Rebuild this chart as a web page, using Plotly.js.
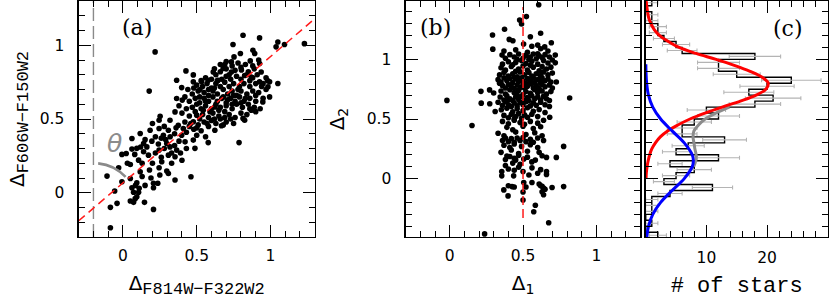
<!DOCTYPE html>
<html><head><meta charset="utf-8">
<script src="https://cdn.plot.ly/plotly-3.0.1.min.js"></script>
<style>html,body{margin:0;padding:0;background:#fff}#chart{width:830px;height:299px}</style>
</head><body><div id="chart"></div>
<script>
// ---------- Panel (a): Delta_{F814W-F322W2} vs Delta_{F606W-F150W2} ----------
const aX = [-0.085,-0.085,-0.04,-0.056,-0.108,-0.029,-0.007,0.05,0.05,-0.007,0.022,0.061,0.094,0.106,0.117,0.094,0.061,0.072,0.106,0.094,0.05,0.072,0.146,0.207,0.207,0.236,0.207,0.18,0.245,0.297,0.308,0.353,0.461,0.263,0.308,0.353,0.364,0.297,0.245,0.173,0.14,0.162,0.196,0.184,0.245,0.274,0.308,0.319,0.398,0.421,0.477,0.488,0.477,0.578,0.623,0.668,0.787,0.825,0.245,0.319,0.375,0.409,0.117,0.061,0.14,
0.083,0.11,0.085,0.13,0.2,0.22,0.26,0.28,0.33,0.35,0.38,0.22,0.26,0.29,0.32,0.35,0.36,0.43,0.45,0.42,0.48,0.51,0.53,0.55,0.58,0.6,0.63,0.66,0.7,0.73,0.56,0.5,0.28,0.2,0.15,0.12,0.08,0.03,0.25,0.19,0.15,0.13,0.24,0.33,0.39,0.43,0.4,
0.218,0.178,0.814,0.926,0.746,1.05,1.095,1.038,1.23,0.881,0.893,0.796,0.753,0.735,0.69,0.863,0.926,0.679,0.427,0.477,0.364,0.612,0.735,0.803,0.825,0.937,0.87,0.926,0.994,1.05,0.983,0.477,0.533,0.578,0.645,0.398,0.522,0.994,0.364,0.402,0.353,0.87,0.948,0.252,0.814,0.5,0.544,0.623,
0.46,0.52,0.57,0.62,0.68,0.75,0.5,
0.45,0.49,0.54,0.58,0.61,0.65,0.69,0.72,0.76,0.8,0.84,0.9,0.4,
0.43,0.47,0.5,0.53,0.56,0.6,0.63,0.66,0.7,0.74,0.77,0.81,0.85,0.89,0.93,
0.38,0.45,0.49,0.52,0.55,0.58,0.61,0.64,0.67,0.7,0.73,0.76,0.79,0.82,0.86,0.9,0.95,
0.42,0.47,0.51,0.55,0.58,0.61,0.64,0.68,0.71,0.74,0.77,0.8,0.84,0.88,0.92,0.97,
0.44,0.5,0.54,0.57,0.6,0.63,0.66,0.69,0.72,0.75,0.79,0.82,0.86,0.9,0.94,
0.56,0.6,0.63,0.67,0.7,0.73,0.77,0.8,0.84,0.88,0.91,0.97,
0.62,0.66,0.7,0.76,0.8,0.85,0.89,0.72,
0.66,0.7,0.78,0.83,0.88,0.92,0.74,
0.59,0.52,0.71,0.78,0.56,0.65,0.83,0.69,0.86,0.62,0.74,0.8,0.58,0.68,0.75,0.9,0.95,0.98,0.64,0.53,0.48,0.86];
const aY = [-0.237,-0.099,-0.072,0.012,0.113,0.169,0.075,0.097,0.192,0.26,0.266,0.296,0.301,0.221,0.142,0.068,0.034,0.003,0.003,-0.027,-0.056,-0.065,-0.065,-0.113,0.034,0.064,0.064,0.154,0.169,0.147,0.131,0.086,0.108,0.21,0.255,0.244,0.289,0.334,0.289,0.255,0.278,0.311,0.35,0.424,0.436,0.39,0.424,0.311,0.39,0.345,0.357,0.301,0.481,0.34,0.424,0.454,0.34,0.492,0.492,0.492,0.458,0.436,0.402,0.368,0.334,
-0.04,0.03,0.05,0.2,0.2,0.27,0.24,0.3,0.27,0.32,0.35,0.38,0.37,0.36,0.38,0.4,0.44,0.41,0.45,0.48,0.43,0.46,0.42,0.48,0.45,0.49,0.47,0.5,0.48,0.5,0.38,0.39,0.45,0.47,0.36,0.31,0.26,0.2,0.12,0.1,0.05,0.11,0.33,0.2,0.27,0.3,0.22,
0.955,0.689,1.068,1.05,1.005,1.022,1.005,0.989,1.011,0.966,0.944,0.944,0.921,0.887,0.869,0.894,0.876,0.842,0.826,0.799,0.763,0.819,0.819,0.833,0.795,0.819,0.785,0.752,0.752,0.741,0.718,0.752,0.752,0.763,0.763,0.713,0.7,0.65,0.639,0.628,0.548,0.56,0.616,0.519,0.504,0.526,0.56,0.582,
0.47,0.5,0.47,0.5,0.46,0.47,0.44,
0.52,0.55,0.53,0.51,0.54,0.52,0.55,0.53,0.51,0.54,0.53,0.55,0.54,
0.57,0.58,0.6,0.57,0.59,0.57,0.6,0.58,0.59,0.57,0.6,0.58,0.6,0.58,0.57,
0.59,0.62,0.64,0.61,0.64,0.62,0.65,0.62,0.64,0.61,0.64,0.62,0.65,0.62,0.64,0.62,0.64,
0.65,0.67,0.69,0.68,0.66,0.69,0.67,0.7,0.67,0.69,0.66,0.69,0.67,0.69,0.68,0.7,
0.7,0.73,0.72,0.74,0.71,0.74,0.72,0.75,0.72,0.74,0.72,0.74,0.72,0.74,0.72,
0.78,0.77,0.8,0.77,0.79,0.77,0.79,0.77,0.8,0.78,0.8,0.78,
0.84,0.82,0.84,0.83,0.85,0.82,0.84,0.8,
0.87,0.89,0.88,0.87,0.86,0.9,0.86,
0.55,0.65,0.63,0.7,0.62,0.56,0.64,0.51,0.57,0.71,0.6,0.61,0.7,0.65,0.66,0.66,0.74,0.76,0.76,0.76,0.71,0.76];
const aFitX = [-0.3, 1.3];
const aFitY = [-0.19, 1.18];
const aVertX = [-0.2, -0.2];
const aVertY = [-0.3, 1.3];

// ---------- Panel (b): Delta_1 vs Delta_2 ----------
const bX = [0.607,0.523,0.477,0.49,0.374,0.292,0.62,0.406,0.431,0.55,
0.504,0.693,0.648,0.6,0.56,
0.294,0.37,0.45,0.53,0.62,0.67,
0.357,0.72,0.38,0.41,0.44,0.47,0.5,0.52,0.55,0.57,0.59,0.61,0.63,0.65,0.68,0.54,0.46,0.6,
0.72,0.36,0.4,0.43,0.49,0.52,0.56,0.6,0.64,0.67,0.7,0.45,
0.35,0.38,0.42,0.47,0.5,0.53,0.57,0.61,0.63,0.66,0.69,0.55,
0.34,0.37,0.4,0.43,0.46,0.48,0.51,0.54,0.56,0.59,0.62,0.64,0.67,0.7,0.45,
0.727,0.33,0.35,0.37,0.39,0.41,0.43,0.45,0.47,0.49,0.5,0.52,0.53,0.55,0.57,0.58,0.6,0.62,0.63,0.65,0.67,0.69,0.44,0.56,
0.36,0.38,0.4,0.42,0.44,0.46,0.48,0.5,0.51,0.53,0.55,0.57,0.59,0.61,0.63,0.65,0.68,0.7,0.34,0.62,
0.213,0.272,0.3,0.35,0.38,0.41,0.44,0.47,0.5,0.52,0.55,0.58,0.6,0.63,0.66,0.69,0.46,
0.818,-0.019,0.344,0.37,0.39,0.41,0.43,0.45,0.47,0.49,0.51,0.53,0.54,0.56,0.58,0.6,0.62,0.64,0.66,0.68,0.4,
0.215,0.273,0.33,0.36,0.38,0.4,0.42,0.44,0.46,0.48,0.5,0.52,0.55,0.57,0.59,0.62,0.65,0.68,
0.31,0.352,0.39,0.43,0.46,0.5,0.53,0.57,0.61,0.65,
0.682,0.37,0.4,0.42,0.45,0.47,0.49,0.51,0.53,0.56,0.6,0.44,
0.36,0.4,0.44,0.48,0.51,0.55,0.6,0.64,
0.152,0.39,0.43,0.5,0.57,0.62,
0.33,0.37,0.45,0.52,0.58,0.63,
0.36,0.38,0.4,0.42,0.44,0.46,0.48,0.5,0.52,0.55,0.57,0.6,0.64,
0.777,0.37,0.41,0.44,0.49,0.55,0.6,
0.35,0.42,0.47,0.53,0.61,
0.727,0.63,0.66,0.584,0.505,0.38,0.41,0.44,0.47,0.39,0.53,0.45,
0.38,0.43,0.48,0.56,
0.561,0.355,0.4,0.44,0.47,0.5,0.62,0.66,
0.355,0.436,0.54,0.66,0.6,
0.561,0.505,0.61,
0.777,0.698,0.425,0.44,0.369,0.62,0.64,0.65,0.4,0.63,0.52,
0.5,0.63,0.64,0.398,
0.5,0.584,0.573,0.675,0.238];
const bY = [1.458,1.359,1.331,1.297,1.253,1.205,1.22,1.168,1.157,1.19,
1.129,1.14,1.105,1.12,1.11,
1.086,1.07,1.08,1.06,1.09,1.07,
1.036,1.036,1.01,1.04,1.02,1.045,1.01,1.035,1.02,1.045,1.005,1.03,1.015,1.04,1.02,1.0,1.0,1.048,
0.971,0.96,0.98,0.955,0.99,0.965,0.985,0.96,0.99,0.97,0.995,0.975,
0.93,0.91,0.94,0.92,0.945,0.91,0.935,0.905,0.94,0.92,0.935,0.95,
0.87,0.89,0.86,0.88,0.855,0.895,0.87,0.89,0.86,0.88,0.865,0.895,0.87,0.885,0.9,
0.811,0.83,0.81,0.845,0.82,0.84,0.805,0.835,0.815,0.845,0.82,0.8,0.84,0.82,0.845,0.805,0.83,0.81,0.845,0.82,0.835,0.81,0.85,0.8,
0.78,0.76,0.79,0.77,0.755,0.785,0.765,0.79,0.76,0.775,0.795,0.76,0.78,0.755,0.79,0.77,0.785,0.76,0.8,0.8,
0.732,0.744,0.718,0.735,0.71,0.745,0.72,0.74,0.705,0.73,0.715,0.745,0.72,0.735,0.71,0.73,0.7,
0.676,0.656,0.684,0.66,0.695,0.67,0.655,0.685,0.665,0.69,0.66,0.68,0.655,0.695,0.67,0.685,0.66,0.69,0.67,0.655,0.66,
0.633,0.628,0.64,0.615,0.645,0.62,0.605,0.635,0.61,0.64,0.62,0.645,0.61,0.635,0.615,0.64,0.62,0.605,
0.563,0.577,0.59,0.56,0.585,0.57,0.595,0.565,0.58,0.555,
0.515,0.53,0.51,0.54,0.52,0.545,0.505,0.535,0.515,0.54,0.52,0.5,
0.48,0.46,0.49,0.47,0.455,0.48,0.465,0.49,
0.445,0.43,0.41,0.44,0.42,0.435,
0.38,0.36,0.39,0.37,0.385,0.36,
0.32,0.34,0.31,0.335,0.305,0.34,0.32,0.345,0.31,0.33,0.305,0.34,0.32,
0.27,0.28,0.26,0.29,0.27,0.285,0.26,
0.22,0.24,0.21,0.23,0.22,
0.178,0.192,0.178,0.155,0.164,0.16,0.185,0.17,0.195,0.19,0.18,0.155,
0.11,0.13,0.12,0.14,
0.09,0.06,0.08,0.07,0.095,0.06,0.075,0.06,
0.023,0.023,0.03,0.035,0.045,
-0.033,-0.033,-0.045,
-0.067,-0.075,-0.067,-0.07,-0.095,-0.06,-0.08,-0.09,-0.06,-0.065,-0.07,
-0.112,-0.11,-0.135,-0.145,
-0.18,-0.224,-0.278,-0.371,-0.464];
const bMeanX = [0.5, 0.5];
const bMeanY = [-0.33, 1.44];

// ---------- Panel (c): histogram of Delta_2 ----------
const histLow = [-0.5,-0.45,-0.4,-0.35,-0.3,-0.25,-0.2,-0.15,-0.1,-0.05,0,0.05,0.1,0.15,0.2,0.25,0.3,0.35,0.4,0.45,0.5,0.55,0.6,0.65,0.7,0.75,0.8,0.85,0.9,0.95,1.0,1.05,1.1,1.15,1.2,1.25,1.3,1.35,1.4,1.45];
const histCount = [2,0,1,0,1,1,1,4,11,3,5,8,4,12,5,7,13,6,6,8,12,10,18,21,17,20,24,15,12,12,18,6,5,3,2,2,1,1,0,1];
const histErr = [1.41,0,1,0,1,1,1,2,3.32,1.73,2.24,2.83,2,3.46,2.24,2.65,3.61,2.45,2.45,2.83,3.46,3.16,4.24,4.58,4.12,4.47,4.9,3.87,3.46,3.46,4.24,2.45,2.24,1.73,1.41,1.41,1,1,0,1];
const binWidth = 0.05;
// Gaussian components
const redV = [1.5,1.4,1.33,1.25,1.2,1.16,1.1,1.05,1.0,0.95,0.9,0.85,0.8,0.75,0.7,0.65,0.6,0.55,0.5,0.45,0.4,0.35,0.3,0.25,0.2,0.15,0.1,0.05,0.0];
const redN = [0.05,0.3,0.6,1.4,2.3,3.4,5.5,8.3,11.6,14.6,17.2,19.2,20.2,19.8,18.2,15.6,12.6,9.8,7.3,5.3,3.6,2.4,1.6,1.0,0.65,0.4,0.22,0.1,0.05];
const blueV = [0.96,0.9,0.8,0.7,0.6,0.5,0.4,0.3,0.2,0.15,0.1,0.0,-0.1,-0.2,-0.3,-0.4,-0.5];
const blueN = [0.02,0.04,0.15,0.45,1.16,2.46,4.35,6.35,7.67,7.85,7.67,6.35,4.35,2.46,1.16,0.45,0.15];
const grayV = [0.6,0.55,0.5,0.45,0.4,0.35,0.3,0.25,0.2,0.15,0.1];
const grayN = [13.8,11.55,9.8,8.7,7.95,7.8,7.95,8.1,8.3,8.25,7.9];
const countTicks = [10, 20];

// step outline
const stepX = [0], stepY = [histLow[0]];
histLow.forEach((lo, i) => { stepX.push(histCount[i], histCount[i]); stepY.push(lo, lo + binWidth); });
stepX.push(0); stepY.push(histLow[histLow.length-1] + binWidth);
const ebX = [], ebY = [], ebE = [];
histLow.forEach((lo, i) => { if (histCount[i] > 0) { ebX.push(histCount[i]); ebY.push(lo + binWidth/2); ebE.push(histErr[i]); } });

const dotMarker = {color:'#000', size:5.6, line:{width:0}};
const traces = [
  {x:aVertX, y:aVertY, xaxis:'x', yaxis:'y', mode:'lines', line:{color:'#8a8a8a', width:1.4, dash:'13px,5px'}, hoverinfo:'skip'},
  {x:aX, y:aY, xaxis:'x', yaxis:'y', mode:'markers', marker:dotMarker},
  {x:aFitX, y:aFitY, xaxis:'x', yaxis:'y', mode:'lines', line:{color:'#ff1a1a', width:1.5, dash:'8px,5px'}},
  {x:bX, y:bY, xaxis:'x2', yaxis:'y2', mode:'markers', marker:dotMarker},
  {x:bMeanX, y:bMeanY, xaxis:'x2', yaxis:'y2', mode:'lines', line:{color:'#ff1a1a', width:1.5, dash:'9px,4px'}},
  {x:stepX, y:stepY, xaxis:'x3', yaxis:'y3', mode:'lines', line:{color:'#000', width:1.4}},
  {x:ebX, y:ebY, xaxis:'x3', yaxis:'y3', mode:'markers', marker:{size:1, color:'rgba(0,0,0,0)'},
   error_x:{type:'data', array:ebE, visible:true, color:'#b4b4b4', thickness:1.1, width:2}},
  {x:grayN, y:grayV, xaxis:'x3', yaxis:'y3', mode:'lines', line:{color:'#8c8c8c', width:3, shape:'spline'}},
  {x:redN, y:redV, xaxis:'x3', yaxis:'y3', mode:'lines', line:{color:'#ff0000', width:3, shape:'spline'}},
  {x:blueN, y:blueV, xaxis:'x3', yaxis:'y3', mode:'lines', line:{color:'#0000ff', width:3, shape:'spline'}}
];

const tickFont = {family:'DejaVu Sans', size:15.5, color:'#000'};
const baseAxis = {showline:true, linecolor:'#000', linewidth:1.3, mirror:'allticks', ticks:'inside', ticklen:12, tickwidth:1, tickcolor:'#000',
  showgrid:false, zeroline:false, tickfont:tickFont, fixedrange:true};
const minor01 = {ticks:'inside', ticklen:6, tickwidth:1, tickcolor:'#000', dtick:0.1, tick0:0, showgrid:false};
const monoSub = s => '<sub><span style="font-family:Liberation Mono;font-size:17px">' + s + '</span></sub>';
const panelFont = {family:'DejaVu Serif', size:22, color:'#000'};

const layout = {
  width:830, height:299, margin:{l:0, r:0, t:1, b:62}, paper_bgcolor:'#fff', plot_bgcolor:'#fff', showlegend:false,
  xaxis: Object.assign({}, baseAxis, {domain:[0.0948,0.3792], range:[-0.3,1.3], dtick:0.5, tick0:0, minor:minor01, anchor:'y',
    ticklabelstandoff:4, title:{text:'Δ' + monoSub('F814W−F322W2'), font:{family:'DejaVu Sans', size:20, color:'#000'}, standoff:12}}),
  yaxis: Object.assign({}, baseAxis, {domain:[0,1], range:[-0.3,1.3], dtick:0.5, tick0:0, minor:minor01, anchor:'x',
    ticklabelstandoff:10, title:{text:'Δ' + monoSub('F606W−F150W2'), font:{family:'DejaVu Sans', size:20, color:'#000'}, standoff:9}}),
  xaxis2: Object.assign({}, baseAxis, {domain:[0.4888,0.7715], range:[-0.3,1.3], dtick:0.5, tick0:0, minor:minor01, anchor:'y2',
    ticklabelstandoff:4, title:{text:'Δ<sub>1</sub>', font:{family:'DejaVu Sans', size:20, color:'#000'}, standoff:12}}),
  yaxis2: Object.assign({}, baseAxis, {domain:[0,1], range:[-0.49,1.49], dtick:0.5, tick0:0, minor:minor01, anchor:'x2',
    ticklabelstandoff:10, title:{text:'Δ<sub>2</sub>', font:{family:'DejaVu Sans', size:20, color:'#000'}, standoff:16}}),
  xaxis3: Object.assign({}, baseAxis, {domain:[0.7780,0.9972], range:[0,30], tickmode:'array', tickvals:countTicks,
    minor:{ticks:'inside', ticklen:6, tickwidth:1, tickcolor:'#000', tickmode:'linear', dtick:2, tick0:0, showgrid:false}, anchor:'y3',
    ticklabelstandoff:6, title:{text:'# of stars', font:{family:'Liberation Mono', size:22, color:'#000'}, standoff:10}}),
  yaxis3: Object.assign({}, baseAxis, {domain:[0,1], range:[-0.49,1.49], dtick:0.5, tick0:0, minor:minor01, anchor:'x3', showticklabels:false}),
  shapes:[
    {type:'path', xref:'x', yref:'y', path:'M -0.168,0.199 Q -0.057,0.1875 0.018,0.108', line:{color:'#8a8a8a', width:2.6}}
  ],
  annotations:[
    {xref:'x', yref:'y', x:-0.055, y:0.334, text:'<i>θ</i>', showarrow:false, font:{family:'DejaVu Sans', size:25, color:'#8c8c8c'}},
    {xref:'paper', yref:'paper', x:0.1446, y:0.95, yanchor:'top', text:'(a)', showarrow:false, font:panelFont},
    {xref:'paper', yref:'paper', x:0.5241, y:0.95, yanchor:'top', text:'(b)', showarrow:false, font:panelFont},
    {xref:'paper', yref:'paper', x:0.9699, y:0.945, yanchor:'top', text:'(c)', showarrow:false, font:panelFont}
  ]
};
Plotly.newPlot('chart', traces, layout, {staticPlot:true, displayModeBar:false});
</script></body></html>
